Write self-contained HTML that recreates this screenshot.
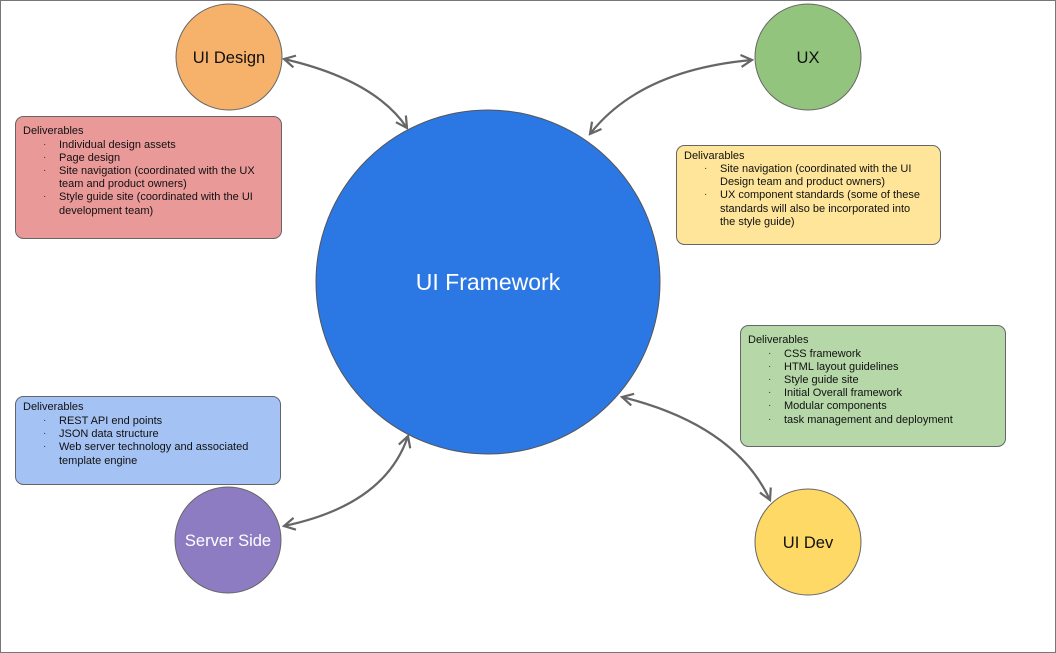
<!DOCTYPE html>
<html><head><meta charset="utf-8"><style>
html,body{margin:0;padding:0;background:#fff}
svg{display:block}
text{font-family:"Liberation Sans",sans-serif}
.s{font-size:11px;fill:#111}
.b{font-size:10px;fill:#333}
</style></head><body>
<svg width="1056" height="653" viewBox="0 0 1056 653" xmlns="http://www.w3.org/2000/svg">
<rect x="0.5" y="0.5" width="1055" height="652" fill="#fff" stroke="#777" stroke-width="1"/>
<defs>
<marker id="a" viewBox="0 0 14 14" refX="12" refY="7" markerWidth="14" markerHeight="14" markerUnits="userSpaceOnUse" orient="auto-start-reverse">
<path d="M1,1 L12,7 L1,13" fill="none" stroke="#666" stroke-width="2.2"/>
</marker>
</defs>
<g fill="none" stroke="#666" stroke-width="2.2" marker-start="url(#a)" marker-end="url(#a)">
<path d="M284,59 Q375,80 407,128"/>
<path d="M752,60 Q640,70 590,134"/>
<path d="M284,526 Q385,505 408,436"/>
<path d="M622,397 Q735,425 770,500"/>
</g>
<circle cx="488" cy="282" r="172" fill="#2b78e4" stroke="#555" stroke-width="1"/>
<text x="488" y="290" text-anchor="middle" font-size="23" fill="#fff">UI Framework</text>
<circle cx="229" cy="57" r="53" fill="#f6b26b" stroke="#666"/>
<text x="229" y="63" text-anchor="middle" font-size="16.5" fill="#111">UI Design</text>
<circle cx="808" cy="57" r="53" fill="#93c47d" stroke="#666"/>
<text x="808" y="63" text-anchor="middle" font-size="16.5" fill="#111">UX</text>
<circle cx="228" cy="540" r="53" fill="#8e7cc3" stroke="#666"/>
<text x="228" y="546" text-anchor="middle" font-size="16.5" fill="#fff">Server Side</text>
<circle cx="808" cy="542" r="53" fill="#ffd966" stroke="#666"/>
<text x="808" y="548" text-anchor="middle" font-size="16.5" fill="#111">UI Dev</text>
<rect x="15.5" y="116.5" width="266" height="122" rx="8" fill="#ea9999" stroke="#666"/>
<text class="s" x="23" y="134">Deliverables</text>
<g class="s">
<text x="59" y="148">Individual design assets</text>
<text x="59" y="161">Page design</text>
<text x="59" y="174">Site navigation (coordinated with the UX</text>
<text x="59" y="187">team and product owners)</text>
<text x="59" y="200">Style guide site (coordinated with the UI</text>
<text x="59" y="214">development team)</text>
</g>
<g class="b"><text x="43" y="147">·</text><text x="43" y="160">·</text><text x="43" y="173">·</text><text x="43" y="199">·</text></g>
<rect x="676.5" y="145.5" width="264" height="99" rx="8" fill="#ffe599" stroke="#666"/>
<text class="s" x="684" y="159">Delivarables</text>
<g class="s">
<text x="720" y="172">Site navigation (coordinated with the UI</text>
<text x="720" y="185">Design team and product owners)</text>
<text x="720" y="198">UX component standards (some of these</text>
<text x="720" y="212">standards will also be incorporated into</text>
<text x="720" y="225">the style guide)</text>
</g>
<g class="b"><text x="704" y="171">·</text><text x="704" y="197">·</text></g>
<rect x="740.5" y="325.5" width="265" height="121" rx="8" fill="#b6d7a8" stroke="#666"/>
<text class="s" x="748" y="343">Deliverables</text>
<g class="s">
<text x="784" y="357">CSS framework</text>
<text x="784" y="370">HTML layout guidelines</text>
<text x="784" y="383">Style guide site</text>
<text x="784" y="396">Initial Overall framework</text>
<text x="784" y="409">Modular components</text>
<text x="784" y="423">task management and deployment</text>
</g>
<g class="b"><text x="768" y="356">·</text><text x="768" y="369">·</text><text x="768" y="382">·</text><text x="768" y="395">·</text><text x="768" y="408">·</text><text x="768" y="422">·</text></g>
<rect x="15.5" y="396.5" width="265" height="88" rx="8" fill="#a4c2f4" stroke="#666"/>
<text class="s" x="23" y="410">Deliverables</text>
<g class="s">
<text x="59" y="424">REST API end points</text>
<text x="59" y="437">JSON data structure</text>
<text x="59" y="450">Web server technology and associated</text>
<text x="59" y="464">template engine</text>
</g>
<g class="b"><text x="43" y="423">·</text><text x="43" y="436">·</text><text x="43" y="449">·</text></g>
</svg>
</body></html>
